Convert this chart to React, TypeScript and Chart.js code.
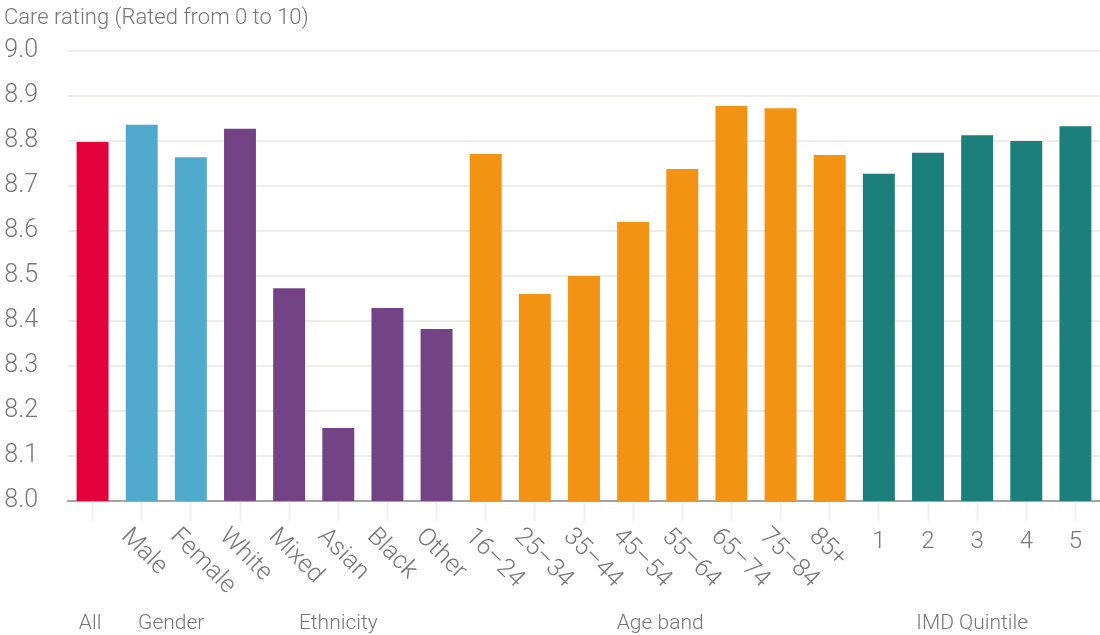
import React, { useEffect, useRef } from 'react';
import { Chart, registerables } from 'chart.js';

Chart.register(...registerables);

// Mean care rating by patient group
const categories = [
  'All',
  'Male', 'Female',
  'White', 'Mixed', 'Asian', 'Black', 'Other',
  '16–24', '25–34', '35–44', '45–54', '55–64', '65–74', '75–84', '85+',
  '1', '2', '3', '4', '5',
];
const tickLabels = [
  '',
  'Male', 'Female',
  'White', 'Mixed', 'Asian', 'Black', 'Other',
  '16–24', '25–34', '35–44', '45–54', '55–64', '65–74', '75–84', '85+',
  '1', '2', '3', '4', '5',
];
const groups = [
  'All',
  'Gender', 'Gender',
  'Ethnicity', 'Ethnicity', 'Ethnicity', 'Ethnicity', 'Ethnicity',
  'Age band', 'Age band', 'Age band', 'Age band', 'Age band', 'Age band', 'Age band', 'Age band',
  'IMD Quintile', 'IMD Quintile', 'IMD Quintile', 'IMD Quintile', 'IMD Quintile',
];
const ratings = [
  8.798,
  8.836, 8.764,
  8.827, 8.473, 8.162, 8.429, 8.382,
  8.771, 8.46, 8.50, 8.62, 8.738, 8.878, 8.873, 8.769,
  8.727, 8.774, 8.813, 8.80, 8.833,
];
const groupNames = ['All', 'Gender', 'Ethnicity', 'Age band', 'IMD Quintile'];
const axisTitle = 'Care rating (Rated from 0 to 10)';
const yMin = 8.0;
const yMax = 9.0;
const yStep = 0.1;

const groupColours: Record<string, string> = {
  'All': '#E4003B',
  'Gender': '#52A9CE',
  'Ethnicity': '#744385',
  'Age band': '#F39314',
  'IMD Quintile': '#1C7F7B',
};

// Where each group caption sits, in category-index units
const groupCaptionAt: Record<string, number> = {
  'All': -0.05,
  'Gender': 1.6,
  'Ethnicity': 5.0,
  'Age band': 11.55,
  'IMD Quintile': 17.9,
};

const FONT = 'Roboto, "Noto Sans", "DejaVu Sans", sans-serif';
const TEXT = '#777777';

const labelsPlugin = {
  id: 'careLabels',
  afterDraw(chart: any) {
    const { ctx, chartArea } = chart;
    const xs = chart.scales.x;
    const base = chartArea.bottom;
    ctx.save();
    ctx.fillStyle = TEXT;

    // axis title
    ctx.font = `300 22px ${FONT}`;
    ctx.textAlign = 'left';
    ctx.textBaseline = 'alphabetic';
    ctx.fillText(axisTitle, 4, 24);

    // category labels: numbers upright, words slanted down to the right
    tickLabels.forEach((t, i) => {
      if (!t) return;
      const px = xs.getPixelForValue(i);
      if (/^\d+$/.test(t)) {
        ctx.font = `300 24px ${FONT}`;
        ctx.textAlign = 'center';
        ctx.textBaseline = 'alphabetic';
        ctx.fillText(t, px, 548);
      } else {
        ctx.font = `300 25px ${FONT}`;
        ctx.save();
        ctx.translate(px - 8, base + 23);
        ctx.rotate(Math.PI / 4);
        ctx.textAlign = 'left';
        ctx.textBaseline = 'top';
        ctx.fillText(t, 0, 0);
        ctx.restore();
      }
    });

    // group captions
    ctx.font = `300 21px ${FONT}`;
    ctx.textAlign = 'center';
    ctx.textBaseline = 'alphabetic';
    groupNames.forEach((g) => {
      const px = xs.getPixelForValue(groupCaptionAt[g]);
      ctx.fillText(g, px, 629);
    });
    ctx.restore();
  },
};

export default function App() {
  const ref = useRef<HTMLCanvasElement>(null);

  useEffect(() => {
    if (!ref.current) return;
    const chart = new Chart(ref.current, {
      type: 'bar',
      data: {
        labels: categories,
        datasets: [
          {
            data: ratings,
            backgroundColor: groups.map((g) => groupColours[g]),
            barPercentage: 0.65,
            categoryPercentage: 1,
          },
        ],
      },
      options: {
        responsive: false,
        animation: false,
        layout: { padding: { top: 51, right: 0, bottom: 114, left: 0 } },
        plugins: {
          legend: { display: false },
          tooltip: { enabled: false },
          title: { display: false },
        },
        scales: {
          x: {
            grid: {
              display: true,
              offset: false,
              drawOnChartArea: false,
              drawTicks: true,
              tickLength: 20,
              tickColor: '#efefeb',
              tickWidth: 2,
            },
            border: { display: true, color: '#a3a6a9', width: 2 },
            ticks: { display: false },
          },
          y: {
            min: yMin,
            max: yMax,
            ticks: {
              stepSize: yStep,
              padding: 30,
              color: TEXT,
              font: { family: FONT, size: 25, weight: '300' },
              callback: (v: any) => Number(v).toFixed(1),
            },
            grid: { color: '#edede9', lineWidth: 2, drawTicks: false },
            border: { display: false },
            afterFit: (s: any) => {
              s.width = 68;
            },
          },
        },
      },
      plugins: [labelsPlugin],
    });
    return () => chart.destroy();
  }, []);

  return (
    <div style={{ position: 'fixed', left: 0, top: 0, width: 1100, height: 635, background: '#ffffff' }}>
      <canvas ref={ref} width={1100} height={635} style={{ display: 'block' }} />
    </div>
  );
}
